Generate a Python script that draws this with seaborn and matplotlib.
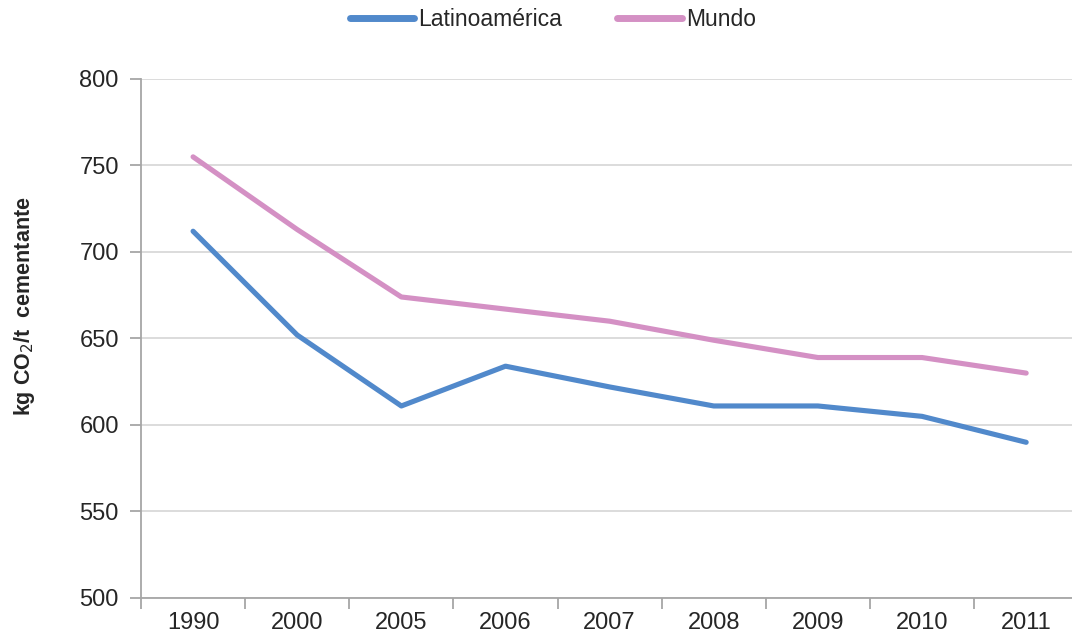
import matplotlib
matplotlib.use("Agg")
import matplotlib.pyplot as plt
from matplotlib.ticker import FixedLocator, MultipleLocator
import seaborn as sns
import pandas as pd

# Emission intensity of cement production (kg CO2 per tonne of cementitious material)
years = ["1990", "2000", "2005", "2006", "2007", "2008", "2009", "2010", "2011"]
latinoamerica = [712, 652, 611, 634, 622, 611, 611, 605, 590]
mundo = [755, 713, 674, 667, 660, 649, 639, 639, 630]
series_names = ["Latinoamérica", "Mundo"]
colors = ["#5189CB", "#D490C4"]

df = pd.DataFrame({
    "Año": years * 2,
    "Valor": latinoamerica + mundo,
    "Serie": [series_names[0]] * len(years) + [series_names[1]] * len(years),
})

sns.set_theme(style="white")
plt.rcParams["font.family"] = ["Liberation Sans", "DejaVu Sans"]

fig = plt.figure(figsize=(10.72, 6.36), dpi=100)
ax = fig.add_axes([141 / 1072, 38 / 636, (1072 - 141) / 1072, 519 / 636])

sns.lineplot(
    data=df, x="Año", y="Valor", hue="Serie", hue_order=series_names,
    palette=colors, sort=False, linewidth=3.7, ax=ax, legend=True,
)
for line in ax.lines:
    line.set_solid_capstyle("round")
    line.set_solid_joinstyle("round")

ax.set_ylim(500, 800)
ax.set_xlim(-0.5, 8.44)
ax.yaxis.set_major_locator(MultipleLocator(50))
ax.grid(axis="y", color="#D9D9D9", linewidth=1.3)
ax.set_axisbelow(True)

for side in ("top", "right"):
    ax.spines[side].set_visible(False)
for side in ("left", "bottom"):
    ax.spines[side].set_color("#A6A6A6")
    ax.spines[side].set_linewidth(1.3)

# category labels without marks, boundary marks between categories
ax.set_xticks(range(len(years)))
ax.set_xticklabels(years)
ax.xaxis.set_minor_locator(FixedLocator([i + 0.5 for i in range(-1, len(years) - 1)]))
ax.tick_params(axis="x", which="major", length=0, pad=10, labelsize=17, labelcolor="#262626")
ax.tick_params(axis="x", which="minor", length=8, width=1.3, color="#A6A6A6", bottom=True)
ax.tick_params(axis="y", which="major", length=8, width=1.3, color="#A6A6A6", left=True,
               pad=8, labelsize=17, labelcolor="#262626")

ax.set_xlabel("")
ax.set_ylabel("")
fig.text(25 / 1072, 1 - 306 / 636, "kg CO$_2$/t  cementante", rotation=90,
         ha="center", va="center", fontsize=15.5, fontweight="bold", color="#262626")

handles, labels = ax.get_legend_handles_labels()
ax.legend_.remove()
fig.legend(
    handles, labels, loc="center", bbox_to_anchor=(553 / 1072, 1 - 20 / 636),
    ncol=2, frameon=False, fontsize=16.5, handlelength=2.8, handletextpad=0.2,
    columnspacing=2.4, labelcolor="#262626",
)
for h in fig.legends[0].legend_handles:
    h.set_linewidth(5)

fig.savefig("out.png", dpi=100)
